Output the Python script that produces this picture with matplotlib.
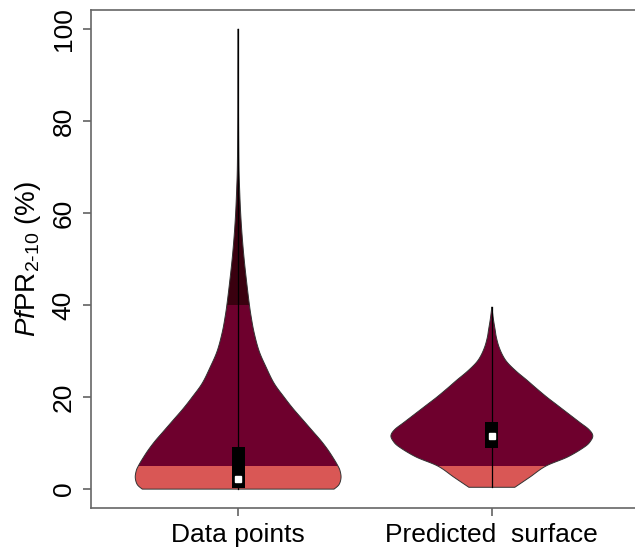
"""Violin plot of PfPR(2-10): survey data points vs. predicted surface."""

import numpy as np
import matplotlib
matplotlib.use("Agg")
import matplotlib.pyplot as plt
from matplotlib.patches import Polygon, Rectangle

plt.rcParams["font.family"] = ["Liberation Sans", "DejaVu Sans"]
plt.rcParams["mathtext.fontset"] = "custom"
plt.rcParams["mathtext.rm"] = "Liberation Sans"
plt.rcParams["mathtext.it"] = "Liberation Sans:italic"

categories = ["Data points", "Predicted  surface"]

# violin outlines: prevalence level (%) and half-width (px at 254 px per x unit)
data_y = [0, 1, 2.5, 4, 5, 6.5, 8.5, 10.5, 12.5, 15, 17.5, 20, 23, 26.5, 30,
          34, 37.5, 40.5, 45, 50, 55, 60, 65, 70, 80, 90, 100]
data_w = [96, 101, 103, 102, 100, 96, 90, 83, 75, 65, 55, 46, 36, 28, 21,
          16, 13, 11, 8.5, 6, 4, 2.5, 1.5, 0.8, 0.4, 0.3, 0]
pred_y = [0.4, 2.6, 5, 7, 9.2, 10.5, 11.7, 13, 14.5, 16.5, 18.5, 20, 22, 23.7,
          25.5, 27.4, 29, 31, 33, 34.6, 37, 39.6]
pred_w = [23, 38, 54, 76, 93, 99, 101, 97, 88, 76, 64, 55, 44, 35,
          25, 16, 11, 7, 4.5, 3.3, 1.5, 0]

# box summaries: q1, median, q3
data_box = [0.3, 2.3, 9.1]
pred_box = [8.9, 11.6, 14.6]

# colour bands (endemicity classes)
band_edges = [0, 5, 40, 100]
band_colors = ["#d95755", "#6e002d", "#3a000f"]

PX = 254.0  # px per x unit in the reference, used to scale the widths


def smooth_outline(ys, ws, n=12):
    """Catmull-Rom pass through the read-off points, only to draw a soft edge."""
    p = np.column_stack([ws, ys]).astype(float)
    p = np.vstack([p[0], p, p[-1]])
    out = []
    t = np.linspace(0, 1, n, endpoint=False)[:, None]
    for i in range(1, len(p) - 2):
        p0, p1, p2, p3 = p[i - 1], p[i], p[i + 1], p[i + 2]
        seg = 0.5 * ((2 * p1) + (-p0 + p2) * t
                     + (2 * p0 - 5 * p1 + 4 * p2 - p3) * t ** 2
                     + (-p0 + 3 * p1 - 3 * p2 + p3) * t ** 3)
        out.append(seg)
    out.append(p[-2][None, :])
    out = np.vstack(out)
    return out[:, 1], np.clip(out[:, 0], 0, None)


def draw_violin(ax, pos, ys, ws, box):
    sy, sw = smooth_outline(ys, ws)
    hw = sw / PX
    xs = np.concatenate([pos - hw, (pos + hw)[::-1]])
    yy = np.concatenate([sy, sy[::-1]])
    verts = np.column_stack([xs, yy])
    for lo, hi, col in zip(band_edges[:-1], band_edges[1:], band_colors):
        patch = Polygon(verts, closed=True, facecolor=col, edgecolor="none",
                        zorder=2)
        ax.add_patch(patch)
        clip = Rectangle((pos - 1, lo), 2, hi - lo, transform=ax.transData)
        patch.set_clip_path(clip)
    ax.add_patch(Polygon(verts, closed=True, facecolor="none",
                         edgecolor="#333333", lw=0.7, zorder=3))
    # whisker line through the full range, box and median
    ax.plot([pos, pos], [ys[0], ys[-1]], color="black", lw=0.9, zorder=4)
    q1, med, q3 = box
    ax.add_patch(Rectangle((pos - 0.026, q1), 0.052, q3 - q1,
                           facecolor="black", edgecolor="none", zorder=5))
    ax.plot([pos], [med], marker="s", ms=5, color="white", mec="white",
            zorder=6)


fig = plt.figure(figsize=(6.35, 5.5), dpi=100)
ax = fig.add_axes([91 / 635, 42 / 550, 548 / 635, 498 / 550])

draw_violin(ax, 1, data_y, data_w, data_box)
draw_violin(ax, 2, pred_y, pred_w, pred_box)

ax.set_xlim(0.42, 2.58)
ax.set_ylim(-4.1, 104.1)
ax.set_xticks([1, 2])
ax.set_xticklabels(categories, fontsize=19)
ax.set_yticks([0, 20, 40, 60, 80, 100])
ax.set_yticklabels(["0", "20", "40", "60", "80", "100"], fontsize=19,
                   rotation=90, va="center")
ax.tick_params(axis="both", length=6, width=1.1, color="#555555", pad=5)
for s in ax.spines.values():
    s.set_color("#666666")
    s.set_linewidth(1.2)

ax.set_ylabel(r"$\mathit{Pf}$PR$_{\mathrm{2}\text{-}\mathrm{10}}$ (%)",
              fontsize=20, labelpad=6)

fig.savefig("out.png", dpi=100)
